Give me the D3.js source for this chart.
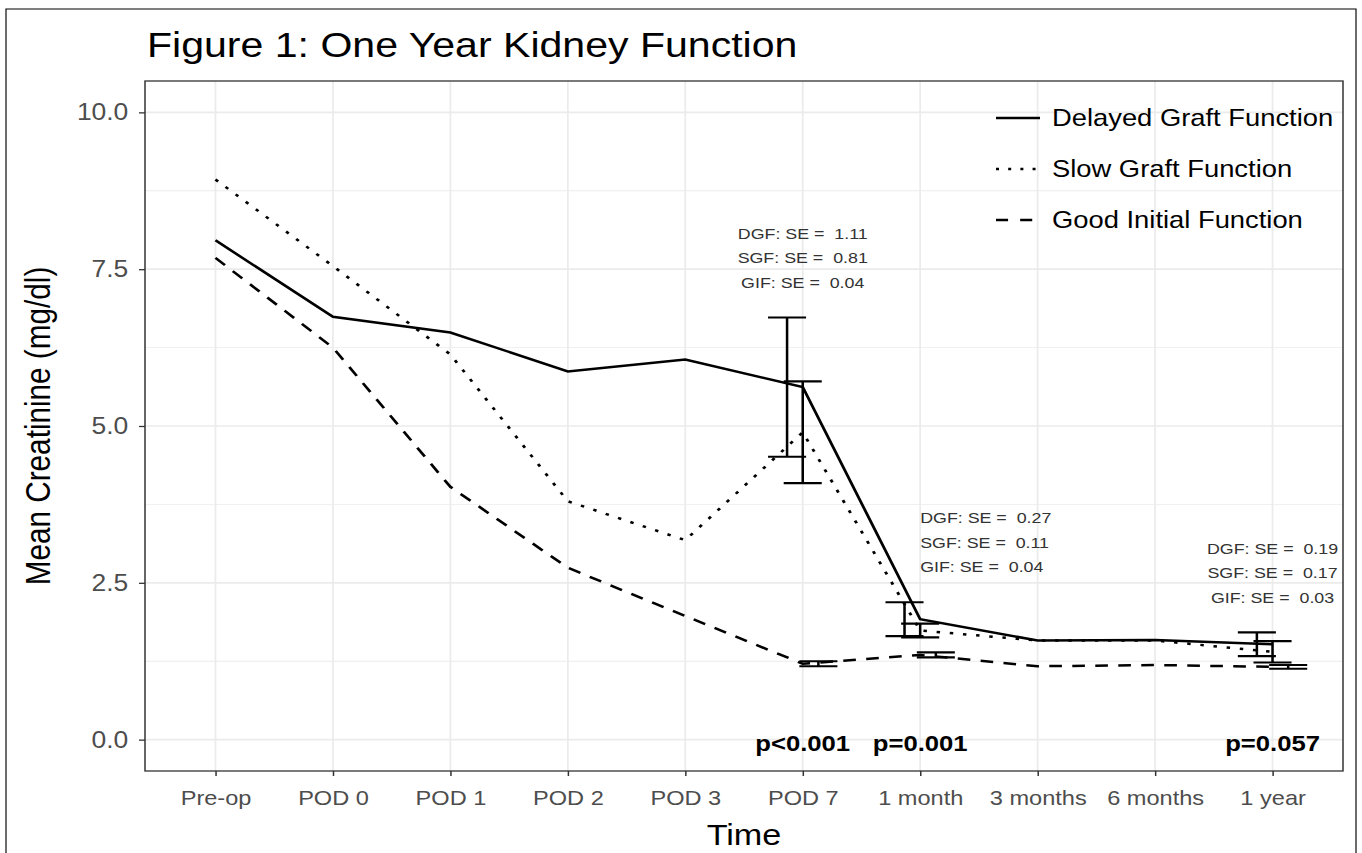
<!DOCTYPE html>
<html>
<head>
<meta charset="utf-8">
<style>
	body { margin: 0; background: #fff; }
	text { font-family: "Liberation Sans", Arial, sans-serif; }
</style>
</head>
<body>
<div id="chart"></div>

<script src="https://cdn.jsdelivr.net/npm/d3@7/dist/d3.min.js"></script>
<script>

	// data
	var times = ["Pre-op", "POD 0", "POD 1", "POD 2", "POD 3", "POD 7",
	             "1 month", "3 months", "6 months", "1 year"];
	var dgf = [7.96, 6.74, 6.49, 5.87, 6.06, 5.62, 1.92, 1.58, 1.59, 1.52];
	var sgf = [8.93, 7.55, 6.14, 3.80, 3.18, 4.90, 1.74, 1.58, 1.58, 1.40];
	var gif = [7.68, 6.25, 4.03, 2.74, 1.97, 1.21, 1.35, 1.17, 1.19, 1.16];

	var seTimes = ["POD 7", "1 month", "1 year"];
	var dgfSE = [1.11, 0.27, 0.19];
	var sgfSE = [0.81, 0.11, 0.17];
	var gifSE = [0.04, 0.04, 0.03];

	var pTimes = ["POD 7", "1 month", "1 year"];
	var pValues = ["p<0.001", "p=0.001", "p=0.057"];

	var seriesNames = ["Delayed Graft Function", "Slow Graft Function", "Good Initial Function"];
	var seriesCodes = ["DGF", "SGF", "GIF"];

	var yTicks = [0, 2.5, 5, 7.5, 10];
	var yMinor = [1.25, 3.75, 6.25, 8.75];

	// the original picture is stretched sideways, so draw in a narrower box
	var SX = 1.15, W = 1362, H = 853, VW = W / SX;
	var pLeft = 145 / SX, pRight = 1343 / SX, pTop = 81, pBottom = 771;

	var svg = d3.select("#chart")
				.append("svg")
				.attr("width", W)
				.attr("height", H)
				.attr("viewBox", "0 0 " + VW + " " + H)
				.attr("preserveAspectRatio", "none");

	svg.append("rect")
	   .attr("width", VW).attr("height", H)
	   .attr("fill", "#fff");

	// outer frame
	svg.append("rect")
	   .attr("x", 6 / SX).attr("y", 9)
	   .attr("width", (1356 - 6) / SX).attr("height", H)
	   .attr("fill", "none")
	   .attr("stroke", "#000")
	   .attr("stroke-width", 1);

	var x = d3.scalePoint()
	          .domain(times)
	          .range([pLeft, pRight])
	          .padding(0.6),
		y = d3.scaleLinear()
		      .domain([-0.5, 10.5])
		      .range([pBottom, pTop]);

	// grid
	var grid = svg.append("g").attr("stroke", "#ebebeb");
	grid.selectAll(".minor")
		.data(yMinor).enter().append("line")
		.attr("x1", pLeft).attr("x2", pRight)
		.attr("y1", function(d) { return y(d); })
		.attr("y2", function(d) { return y(d); })
		.attr("stroke-width", 0.9);
	grid.selectAll(".major")
		.data(yTicks).enter().append("line")
		.attr("x1", pLeft).attr("x2", pRight)
		.attr("y1", function(d) { return y(d); })
		.attr("y2", function(d) { return y(d); })
		.attr("stroke-width", 1.7);
	grid.selectAll(".vert")
		.data(times).enter().append("line")
		.attr("x1", function(d) { return x(d); })
		.attr("x2", function(d) { return x(d); })
		.attr("y1", pTop).attr("y2", pBottom)
		.attr("stroke-width", 1.5);

	// lines
	var dashes = [null, "3,8.5", "11,9"];
	var series = [dgf, sgf, gif];
	var ses = [dgfSE, sgfSE, gifSE];

	var line = d3.line()
	             .x(function(d, i) { return x(times[i]); })
	             .y(function(d) { return y(d); });

	svg.selectAll(".series")
	   .data(series).enter().append("path")
	   .attr("d", line)
	   .attr("fill", "none")
	   .attr("stroke", "#000")
	   .attr("stroke-width", 2.5)
	   .attr("stroke-dasharray", function(d, i) { return dashes[i]; });

	// error bars, dodged like position_dodge(0.4)
	var dodge = x.step() * 0.4 / 3;
	var capHalf = x.step() * 0.162;
	var bars = [];
	series.forEach(function(s, k) {
		seTimes.forEach(function(t, j) {
			var m = s[times.indexOf(t)];
			bars.push({ cx: x(t) + (k - 1) * dodge, lo: m - ses[k][j], hi: m + ses[k][j] });
		});
	});

	var eb = svg.append("g").attr("stroke", "#000").attr("stroke-width", 2.2);
	bars.forEach(function(b) {
		eb.append("line")
		  .attr("x1", b.cx).attr("x2", b.cx)
		  .attr("y1", y(b.lo)).attr("y2", y(b.hi));
		[b.lo, b.hi].forEach(function(v) {
			eb.append("line")
			  .attr("x1", b.cx - capHalf).attr("x2", b.cx + capHalf)
			  .attr("y1", y(v)).attr("y2", y(v));
		});
	});

	// panel border
	svg.append("rect")
	   .attr("x", pLeft).attr("y", pTop)
	   .attr("width", pRight - pLeft).attr("height", pBottom - pTop)
	   .attr("fill", "none")
	   .attr("stroke", "#333")
	   .attr("stroke-width", 1.3);

	// axes
	var yAxis = d3.axisLeft(y)
	              .tickValues(yTicks)
	              .tickFormat(d3.format(".1f"))
	              .tickSize(5.2)
	              .tickPadding(9.3);
	var xAxis = d3.axisBottom(x).tickSize(5).tickPadding(14);

	var gy = svg.append("g")
	   .attr("transform", "translate(" + pLeft + ",0)")
	   .call(yAxis);
	var gx = svg.append("g")
	   .attr("transform", "translate(0," + pBottom + ")")
	   .call(xAxis);

	[gx, gy].forEach(function(g) {
		g.select(".domain").remove();
		g.selectAll(".tick line").attr("stroke", "#333").attr("stroke-width", 1.3);
		g.selectAll(".tick text")
		 .attr("fill", "#4d4d4d")
		 .style("font-family", "'Liberation Sans', Arial, sans-serif");
	});
	gy.selectAll(".tick text").style("font-size", "23px");
	gx.selectAll(".tick text").style("font-size", "20.5px");

	// SE annotations
	var notes = [
		{ t: "POD 7", v: 8.07, anchor: "middle" },
		{ t: "1 month", v: 3.54, anchor: "start" },
		{ t: "1 year", v: 3.05, anchor: "middle" }
	];
	notes.forEach(function(n, j) {
		seriesCodes.forEach(function(c, k) {
			svg.append("text")
			   .attr("x", x(n.t))
			   .attr("y", y(n.v - k * 0.39))
			   .attr("dy", "0.36em")
			   .attr("text-anchor", n.anchor)
			   .attr("fill", "#333")
			   .style("font-size", "15.5px")
			   .style("white-space", "pre")
			   .text(c + ": SE =  " + ses[k][j].toFixed(2));
		});
	});

	// p values
	svg.selectAll(".pval")
	   .data(pValues).enter().append("text")
	   .attr("x", function(d, i) { return x(pTimes[i]); })
	   .attr("y", 751)
	   .attr("text-anchor", "middle")
	   .style("font-size", "22.3px")
	   .style("font-weight", "bold")
	   .text(function(d) { return d; });

	// legend
	var legend = svg.append("g");
	seriesNames.forEach(function(name, i) {
		var ly = 118 + i * 51;
		legend.append("line")
		      .attr("x1", 996 / SX).attr("x2", 1040 / SX)
		      .attr("y1", ly).attr("y2", ly)
		      .attr("stroke", "#000")
		      .attr("stroke-width", 2.5)
		      .attr("stroke-dasharray", i == 0 ? null : (i == 1 ? "2.6,8" : "10.5,10.5"));
		legend.append("text")
		      .attr("x", 1052 / SX)
		      .attr("y", ly)
		      .attr("dy", "0.35em")
		      .style("font-size", "23.8px")
		      .text(name);
	});

	// titles
	svg.append("text")
	   .attr("x", 147 / SX).attr("y", 57)
	   .style("font-size", "35.7px")
	   .text("Figure 1: One Year Kidney Function");

	svg.append("text")
	   .attr("x", (pLeft + pRight) / 2).attr("y", 845)
	   .attr("text-anchor", "middle")
	   .style("font-size", "29.7px")
	   .text("Time");

	svg.append("text")
	   .attr("transform", "translate(" + (50 / SX) + "," + ((pTop + pBottom) / 2) + ") rotate(-90)")
	   .attr("text-anchor", "middle")
	   .style("font-size", "29.7px")
	   .text("Mean Creatinine (mg/dl)");

</script>
</body>
</html>
